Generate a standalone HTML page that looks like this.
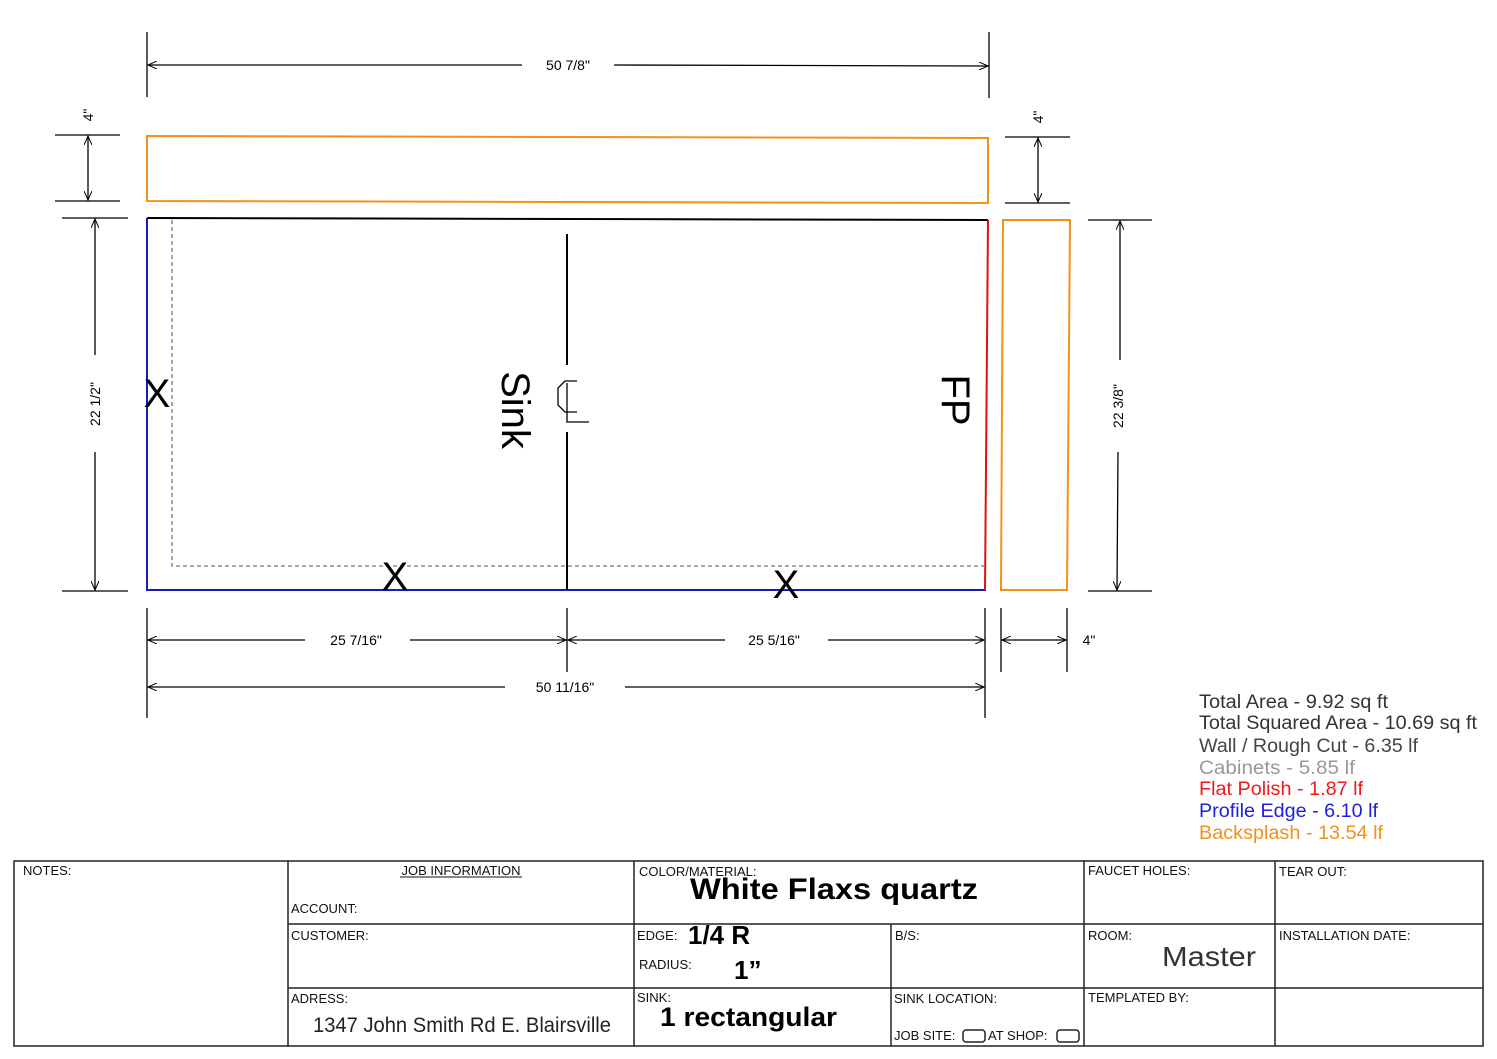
<!DOCTYPE html>
<html><head><meta charset="utf-8"><style>
body{margin:0;background:#fff}
svg{display:block}
text{font-family:"Liberation Sans",sans-serif}
</style></head><body>
<svg width="1497" height="1059" viewBox="0 0 1497 1059" xmlns="http://www.w3.org/2000/svg">
<defs>
<marker id="a" markerWidth="10" markerHeight="8" refX="9" refY="4" orient="auto-start-reverse" markerUnits="userSpaceOnUse"><path d="M0,0 L9,4 L0,8" fill="none" stroke="#000" stroke-width="1"/></marker>
</defs>
<g stroke="#000" stroke-width="1.3" fill="none">
<line x1="147" y1="32" x2="147" y2="97"/><line x1="989" y1="32" x2="989" y2="98"/>
<line x1="148" y1="65" x2="522" y2="65" marker-start="url(#a)"/><line x1="614" y1="65" x2="988" y2="66" marker-end="url(#a)"/>
<line x1="55" y1="135" x2="120" y2="135"/><line x1="55" y1="201" x2="120" y2="201"/>
<line x1="88" y1="136" x2="88" y2="200" marker-start="url(#a)" marker-end="url(#a)"/>
<line x1="1005" y1="137" x2="1070" y2="137"/><line x1="1005" y1="203" x2="1070" y2="203"/>
<line x1="1038" y1="138" x2="1038" y2="202" marker-start="url(#a)" marker-end="url(#a)"/>
<line x1="62" y1="218" x2="128" y2="218"/><line x1="62" y1="591" x2="128" y2="591"/>
<line x1="95" y1="219" x2="95" y2="355" marker-start="url(#a)"/><line x1="95" y1="452" x2="95" y2="590" marker-end="url(#a)"/>
<line x1="1088" y1="220" x2="1152" y2="220"/><line x1="1088" y1="591" x2="1152" y2="591"/>
<line x1="1120" y1="221" x2="1120" y2="360" marker-start="url(#a)"/><line x1="1118" y1="452" x2="1117" y2="590" marker-end="url(#a)"/>
<line x1="147" y1="608" x2="147" y2="718"/><line x1="985" y1="608" x2="985" y2="718"/>
<line x1="567" y1="608" x2="567" y2="672"/>
<line x1="148" y1="640" x2="305" y2="640" marker-start="url(#a)"/><line x1="410" y1="640" x2="566" y2="640" marker-end="url(#a)"/>
<line x1="568" y1="640" x2="725" y2="640" marker-start="url(#a)"/><line x1="828" y1="640" x2="984" y2="640" marker-end="url(#a)"/>
<line x1="148" y1="687" x2="505" y2="687" marker-start="url(#a)"/><line x1="625" y1="687" x2="984" y2="687" marker-end="url(#a)"/>
<line x1="1001" y1="608" x2="1001" y2="672"/><line x1="1067" y1="608" x2="1067" y2="672"/>
<line x1="1002" y1="640" x2="1066" y2="640" marker-start="url(#a)" marker-end="url(#a)"/>
</g>
<path d="M147,136 L988,138 L988,203 L147,201 Z" fill="none" stroke="#f39019" stroke-width="2"/>
<path d="M1003,220 L1070,220 L1067,590 L1001,590 Z" fill="none" stroke="#f39019" stroke-width="2"/>
<line x1="147" y1="218" x2="988" y2="220" stroke="#000" stroke-width="2"/>
<line x1="147" y1="218" x2="147" y2="591" stroke="#1a1ab8" stroke-width="2"/>
<line x1="147" y1="590" x2="986" y2="590" stroke="#1a1ab8" stroke-width="2"/>
<line x1="988" y1="220" x2="985" y2="590" stroke="#e01010" stroke-width="2"/>
<path d="M172,220 L172,566 L985,566" fill="none" stroke="#777" stroke-width="1.3" stroke-dasharray="4,3"/>
<line x1="567" y1="234" x2="567" y2="365" stroke="#000" stroke-width="2"/>
<line x1="567" y1="432" x2="567" y2="590" stroke="#000" stroke-width="2"/>
<path d="M577,381 L565,381 L558,388 L558,405 L565,412 L577,412 M567,383 L567,422 L589,422" fill="none" stroke="#000" stroke-width="1.3"/>
<text transform="translate(502,410) rotate(90)" font-size="40" text-anchor="middle">Sink</text>
<text transform="translate(942,400) rotate(90)" font-size="40" text-anchor="middle">FP</text>
<text x="157" y="407" font-size="40" text-anchor="middle">X</text>
<text x="395" y="590" font-size="40" text-anchor="middle">X</text>
<text x="786" y="598" font-size="40" text-anchor="middle">X</text>
<g font-size="14" text-anchor="middle">
<text x="568" y="70">50 7/8"</text>
<text transform="translate(93,115) rotate(-90)">4"</text>
<text transform="translate(1043,117) rotate(-90)">4"</text>
<text transform="translate(100,404) rotate(-90)">22 1/2"</text>
<text transform="translate(1123,406) rotate(-90)">22 3/8"</text>
<text x="356" y="645">25 7/16"</text>
<text x="774" y="645">25 5/16"</text>
<text x="565" y="692">50 11/16"</text>
<text x="1089" y="645">4"</text>
</g>
<g font-size="19" lengthAdjust="spacingAndGlyphs">
<text x="1199" y="708" fill="#333" textLength="189" lengthAdjust="spacingAndGlyphs">Total Area - 9.92 sq ft</text>
<text x="1199" y="729" fill="#333" textLength="278" lengthAdjust="spacingAndGlyphs">Total Squared Area - 10.69 sq ft</text>
<text x="1199" y="752" fill="#444" textLength="219" lengthAdjust="spacingAndGlyphs">Wall / Rough Cut - 6.35 lf</text>
<text x="1199" y="774" fill="#999" textLength="156" lengthAdjust="spacingAndGlyphs">Cabinets  - 5.85 lf</text>
<text x="1199" y="795" fill="#f01818" textLength="164" lengthAdjust="spacingAndGlyphs">Flat Polish - 1.87 lf</text>
<text x="1199" y="817" fill="#2020e0" textLength="179" lengthAdjust="spacingAndGlyphs">Profile Edge - 6.10 lf</text>
<text x="1199" y="839" fill="#f39019" textLength="184" lengthAdjust="spacingAndGlyphs">Backsplash - 13.54 lf</text>
</g>
<g stroke="#222" stroke-width="1.5" fill="none">
<rect x="14" y="861" width="1469" height="185"/>
<line x1="288" y1="861" x2="288" y2="1046"/>
<line x1="634" y1="861" x2="634" y2="1046"/>
<line x1="1084" y1="861" x2="1084" y2="1046"/>
<line x1="1275" y1="861" x2="1275" y2="1046"/>
<line x1="288" y1="924" x2="1483" y2="924"/>
<line x1="288" y1="988" x2="1483" y2="988"/>
<line x1="891" y1="924" x2="891" y2="1046"/>
<rect x="963" y="1030" width="22" height="12" rx="3"/>
<rect x="1057" y="1030" width="22" height="12" rx="3"/>
</g>
<g font-size="13" fill="#111">
<text x="23" y="875">NOTES:</text>
<text x="461" y="875" text-anchor="middle">JOB INFORMATION</text>
<line x1="400" y1="877" x2="522" y2="877" stroke="#111"/>
<text x="291" y="913">ACCOUNT:</text>
<text x="291" y="940">CUSTOMER:</text>
<text x="291" y="1003">ADRESS:</text>
<text x="639" y="876">COLOR/MATERIAL:</text>
<text x="637" y="940">EDGE:</text>
<text x="639" y="969">RADIUS:</text>
<text x="637" y="1002">SINK:</text>
<text x="895" y="940">B/S:</text>
<text x="894" y="1003">SINK LOCATION:</text>
<text x="894" y="1040">JOB SITE:</text>
<text x="988" y="1040">AT SHOP:</text>
<text x="1088" y="875">FAUCET HOLES:</text>
<text x="1088" y="940">ROOM:</text>
<text x="1088" y="1002">TEMPLATED BY:</text>
<text x="1279" y="876">TEAR OUT:</text>
<text x="1279" y="940">INSTALLATION DATE:</text>
</g>
<g font-weight="bold" fill="#000">
<text x="690" y="899" font-size="30" textLength="288" lengthAdjust="spacingAndGlyphs">White Flaxs quartz</text>
<text x="688" y="944" font-size="26">1/4 R</text>
<text x="734" y="979" font-size="26">1”</text>
<text x="660" y="1026" font-size="27" textLength="177" lengthAdjust="spacingAndGlyphs">1 rectangular</text>
</g>
<text x="1162" y="966" font-size="28" fill="#333" textLength="94" lengthAdjust="spacingAndGlyphs">Master</text>
<text x="313" y="1032" font-size="21" fill="#222" textLength="298" lengthAdjust="spacingAndGlyphs">1347 John Smith Rd E. Blairsville</text>
</svg>
</body></html>
